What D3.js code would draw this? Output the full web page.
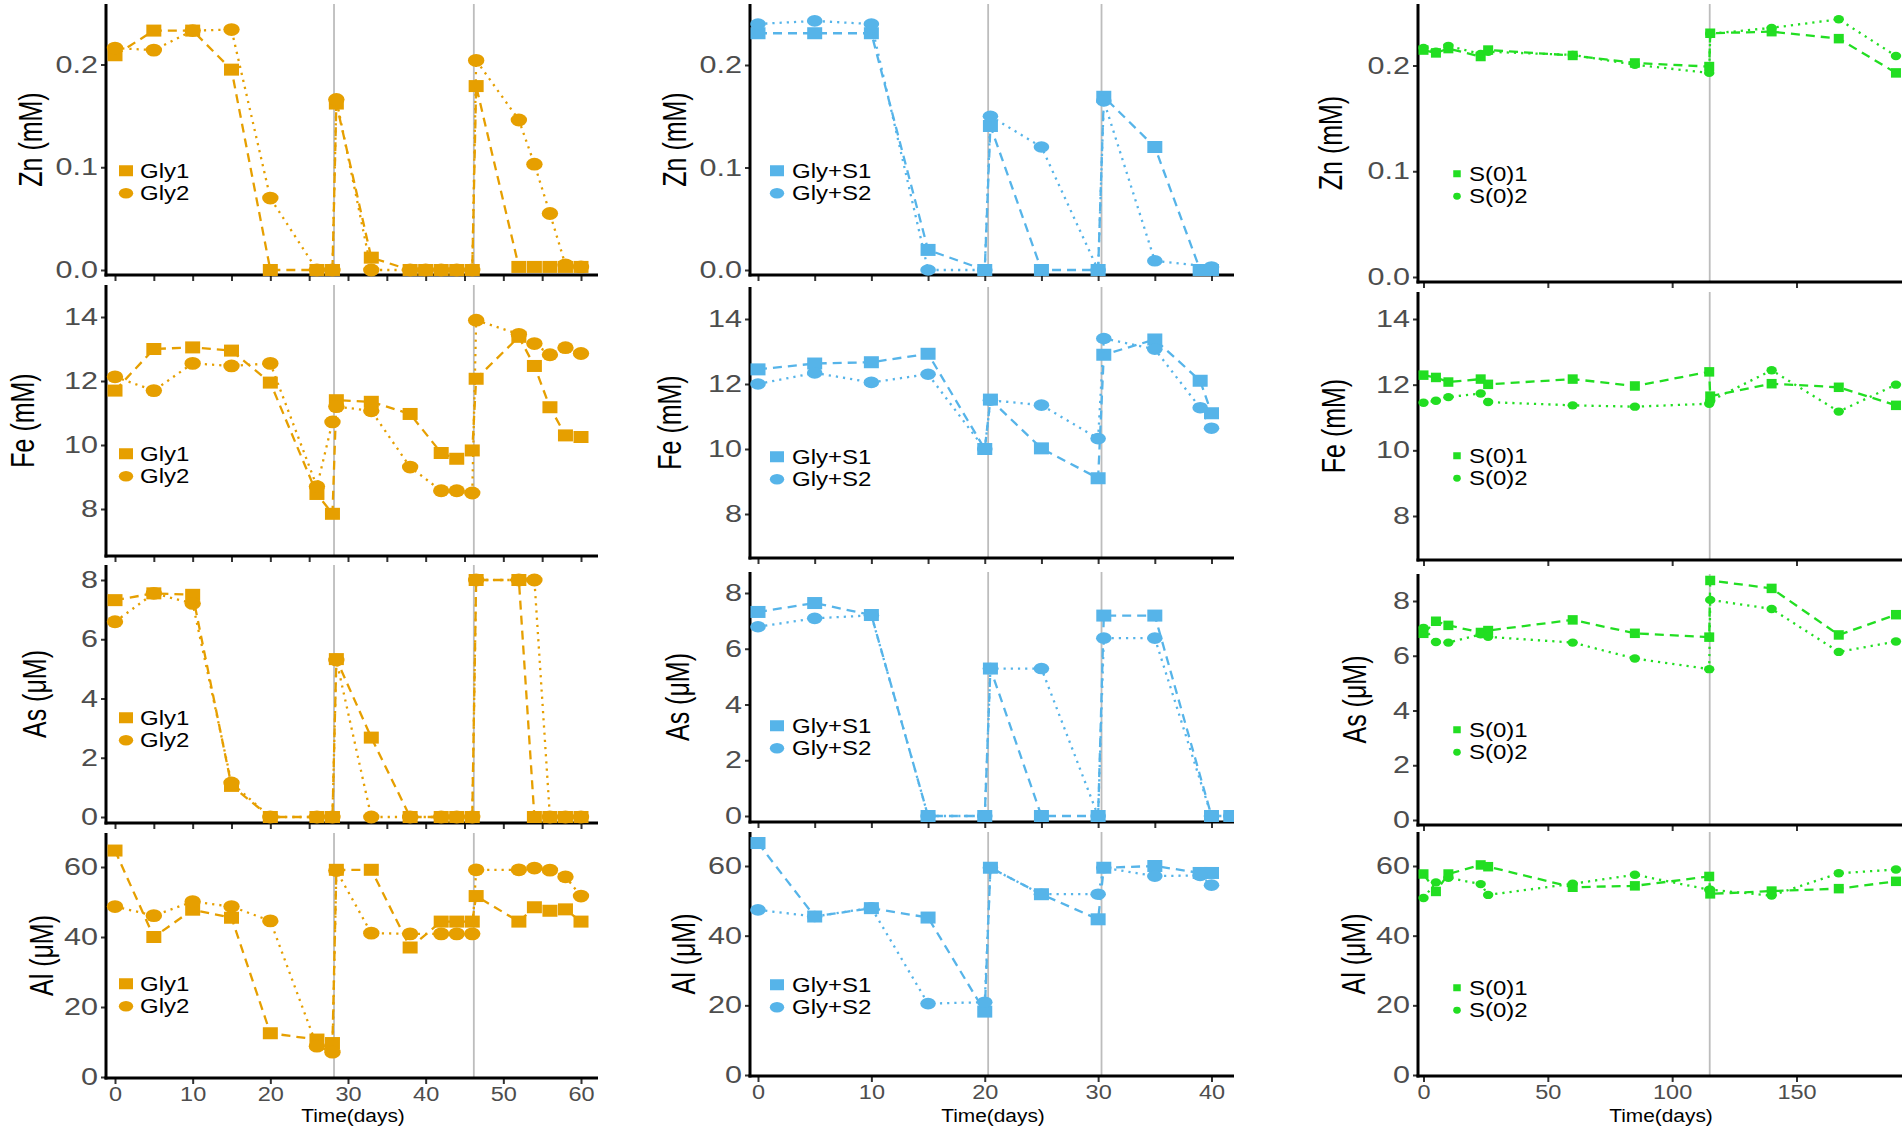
<!DOCTYPE html>
<html>
<head>
<meta charset="utf-8">
<script src="https://cdn.jsdelivr.net/npm/d3@7"></script>
<style>
  body { margin: 0; background: #fff; }
  svg { display: block; }
  text { font-family: "Liberation Sans", Arial, sans-serif; }
</style>
</head>
<body>
<svg id="chart" width="1902" height="1132"></svg>
<script>
// ---------------- data ----------------
// column 1 : Gly
const glyDays = [0, 5, 10, 15, 20, 26, 28, 28.5, 33, 38, 40, 42, 44, 46, 46.5, 52, 54, 56, 58, 60];
const glyZn1 = [0.209, 0.233, 0.233, 0.195, 0, 0, 0, 0.162, 0.012, 0, 0, 0, 0, 0, 0.179, 0.003, 0.003, 0.003, 0.003, 0.003];
const glyZn2 = [0.216, 0.214, 0.233, 0.234, 0.070, 0, 0, 0.166, 0, 0, 0, 0, 0, 0, 0.204, 0.146, 0.103, 0.055, 0.005, 0.003];
const glyFe1 = [11.7, 13.0, 13.05, 12.95, 11.95, 8.47, 7.85, 11.4, 11.35, 10.97, null, 9.75, 9.57, 9.83, 12.07, 13.38, 12.47, 11.18, 10.3, 10.25];
const glyFe2 = [12.13, 11.7, 12.55, 12.47, 12.55, 8.7, 10.72, 11.2, 11.07, 9.31, null, 8.57, 8.57, 8.5, 13.9, 13.46, 13.17, 12.82, 13.04, 12.86];
const glyAs1 = [7.32, 7.55, 7.5, 1.05, 0, 0, 0, 5.33, 2.68, 0, null, 0, 0, 0, 8.0, 8.0, 0, 0, 0, 0];
const glyAs2 = [6.59, 7.55, 7.21, 1.15, 0, 0, 0, 5.3, 0, 0, null, 0, 0, 0, 8.0, 8.0, 8.0, 0, 0, 0];
const glyAl1 = [64.7, 40.0, 47.8, 45.5, 12.5, 10.7, 9.7, 59.2, 59.2, 37.0, null, 44.4, 44.4, 44.4, 51.7, 44.4, 48.5, 47.5, 47.9, 44.4];
const glyAl2 = [48.7, 46.1, 50.1, 48.7, 44.6, 8.8, 7.1, 59.0, 41.1, 40.9, null, 40.9, 40.9, 40.9, 59.2, 59.2, 59.7, 59.1, 57.2, 51.7];

// column 2 : Gly+S
const glysDays = [0, 5, 10, 15, 20, 20.5, 25, 30, 30.5, 35, 39, 40, 41.7];
const glysZn1 = [0.231, 0.231, 0.231, 0.0196, 0, 0.1405, 0, 0, 0.169, 0.120, 0, 0, null];
const glysZn2 = [0.240, 0.243, 0.240, 0, 0, 0.150, 0.120, 0, 0.165, 0.009, null, 0.003, null];
const glysFe1 = [12.45, 12.63, 12.67, 12.93, 10.0, 11.52, 10.02, 9.1, 12.9, 13.37, 12.1, 11.1, null];
const glysFe2 = [12.0, 12.34, 12.05, 12.3, 10.0, 11.5, 11.35, 10.32, 13.4, 13.07, 11.27, 10.64, null];
const glysAs1 = [7.32, 7.64, 7.21, 0, 0, 5.29, 0, 0, 7.19, 7.19, null, 0, 0];
const glysAs2 = [6.79, 7.09, 7.2, 0, 0, 5.29, 5.29, 0, 6.38, 6.38, null, 0, 0];
const glysAl1 = [66.6, 45.5, 47.9, 45.2, 18.2, 59.5, 51.9, 44.7, 59.5, 60.0, 58.0, 58.0, null];
const glysAl2 = [47.4, 45.5, 48.0, 20.5, 20.9, 59.5, 51.9, 51.9, 59.5, 57.1, 57.3, 54.5, null];

// column 3 : S(0)
const s0Days = [0, 5, 10, 23, 26, 60, 85, 114.9, 115.3, 140, 167, 190];
const s0Zn1 = [0.2146, 0.2119, 0.216, 0.2085, 0.2146, 0.2095, 0.2024, 0.199, 0.2305, 0.232, 0.2254, 0.193];
const s0Zn2 = [0.2166, 0.213, 0.2186, 0.211, 0.213, 0.210, 0.2007, 0.193, 0.230, 0.2356, 0.2437, 0.209];
const s0Fe1 = [12.29, 12.22, 12.08, 12.17, 12.01, 12.17, 11.96, 12.39, 11.65, 12.03, 11.92, 11.37];
const s0Fe2 = [11.45, 11.51, 11.62, 11.73, 11.47, 11.37, 11.33, 11.42, 11.5, 12.44, 11.18, 12.0];
const s0As1 = [6.82, 7.26, 7.11, 6.85, 6.92, 7.31, 6.82, 6.68, 8.75, 8.46, 6.76, 7.5];
const s0As2 = [7.02, 6.5, 6.48, 6.78, 6.69, 6.48, 5.9, 5.51, 8.04, 7.71, 6.14, 6.52];
const s0Al1 = [57.7, 52.7, 57.7, 60.3, 59.8, 53.9, 54.3, 57.0, 52.0, 52.8, 53.5, 55.6];
const s0Al2 = [50.8, 55.3, 56.6, 54.8, 51.7, 54.9, 57.5, 53.2, 53.2, 51.5, 57.9, 59.0];

const elements = ["Zn", "Fe", "As", "Al"];
const yTitles = { Zn: "Zn (mM)", Fe: "Fe (mM)", As: "As (μM)", Al: "Al (μM)" };
const yTickValues = { Zn: [0, 0.1, 0.2], Fe: [8, 10, 12, 14], As: [0, 2, 4, 6, 8], Al: [0, 20, 40, 60] };
const yTickFormat = { Zn: d3.format(".1f"), Fe: d3.format("d"), As: d3.format("d"), Al: d3.format("d") };

const columns = [
  {
    days: glyDays, names: ["Gly1", "Gly2"], color: "#E69F00",
    series: { Zn: [glyZn1, glyZn2], Fe: [glyFe1, glyFe2], As: [glyAs1, glyAs2], Al: [glyAl1, glyAl2] },
    vlines: [28.2, 46.2],
    xTicks: d3.range(0, 61, 5), xLabels: d3.range(0, 61, 10)
  },
  {
    days: glysDays, names: ["Gly+S1", "Gly+S2"], color: "#56B4E9",
    series: { Zn: [glysZn1, glysZn2], Fe: [glysFe1, glysFe2], As: [glysAs1, glysAs2], Al: [glysAl1, glysAl2] },
    vlines: [20.3, 30.3],
    xTicks: d3.range(0, 41, 5), xLabels: d3.range(0, 41, 10)
  },
  {
    days: s0Days, names: ["S(0)1", "S(0)2"], color: "#22DE22",
    series: { Zn: [s0Zn1, s0Zn2], Fe: [s0Fe1, s0Fe2], As: [s0As1, s0As2], Al: [s0Al1, s0Al2] },
    vlines: [115.1],
    xTicks: [0, 50, 100, 150], xLabels: [0, 50, 100, 150]
  }
];

// ---------------- layout (pixels) ----------------
// the original figure is stretched sideways, so texts and marks get a wider x scale
const stretch = { yTick: 1.3, xTick: 1.12, title: 1.35, legend: 1.2, time: 1.16 };
const legendGap = 22.5;
const layout = [
  { axis: 106, xd: [0, 60], xr: [115, 581], right: 598, timeX: 353,
    sq: [15, 12], el: [8.2, 6.4], legSq: [14, 11], legEl: [7.2, 5.2], legX: 126, textX: 140,
    rows: {
      Zn: { v: [0, 0.2], p: [270, 64.5], top: 4, bottom: 275, leg: 182, title: 33 },
      Fe: { v: [8, 14], p: [509, 317], top: 285, bottom: 556, leg: 465, title: 25 },
      As: { v: [0, 8], p: [817, 580], top: 565, bottom: 823, leg: 729, title: 37 },
      Al: { v: [0, 60], p: [1077, 867], top: 833, bottom: 1078, leg: 995, title: 44 }
    } },
  { axis: 750, xd: [0, 40], xr: [758, 1211.5], right: 1234, timeX: 993,
    sq: [15, 12], el: [7.8, 5.8], legSq: [14, 11], legEl: [7.2, 5.2], legX: 777, textX: 792,
    rows: {
      Zn: { v: [0, 0.2], p: [270, 65], top: 4, bottom: 275, leg: 182, title: 677 },
      Fe: { v: [8, 14], p: [514, 319], top: 287, bottom: 558, leg: 468, title: 672 },
      As: { v: [0, 8], p: [816, 593], top: 572, bottom: 822, leg: 737, title: 680 },
      Al: { v: [0, 60], p: [1075, 866], top: 832, bottom: 1076, leg: 996, title: 686 }
    } },
  { axis: 1418, xd: [0, 150], xr: [1423.5, 1796.5], right: 1902, timeX: 1661,
    sq: [10, 9.5], el: [5.2, 4.2], legSq: [7.5, 7], legEl: [3.8, 3.4], legX: 1457, textX: 1469,
    rows: {
      Zn: { v: [0, 0.2], p: [277, 65.5], top: 4, bottom: 282, leg: 185, title: 1333 },
      Fe: { v: [8, 14], p: [516, 319], top: 292, bottom: 560, leg: 467, title: 1336 },
      As: { v: [0, 8], p: [820, 601], top: 574, bottom: 825, leg: 741, title: 1357 },
      Al: { v: [0, 60], p: [1075, 866], top: 832, bottom: 1076, leg: 999, title: 1356 }
    } }
];

const svg = d3.select("#chart");
const defs = svg.append("defs");

columns.forEach((col, ci) => {
  const L = layout[ci];
  const x = d3.scaleLinear().domain(L.xd).range(L.xr);

  elements.forEach((el, ri) => {
    const R = L.rows[el];
    const y = d3.scaleLinear().domain(R.v).range(R.p);
    const g = svg.append("g").attr("class", "panel");
    const clipId = "clip-" + ci + "-" + ri;
    defs.append("clipPath").attr("id", clipId).append("rect")
      .attr("x", L.axis - 12).attr("y", R.top - 20)
      .attr("width", L.right - L.axis + 12).attr("height", R.bottom - R.top + 40);

    // grey marker lines
    g.selectAll("line.vline").data(col.vlines).join("line")
      .attr("class", "vline")
      .attr("x1", d => x(d)).attr("x2", d => x(d))
      .attr("y1", R.top).attr("y2", R.bottom)
      .attr("stroke", "#bdbdbd").attr("stroke-width", 1.8);

    // y axis
    const yAxis = g.append("g").attr("transform", "translate(" + L.axis + ",0)")
      .call(d3.axisLeft(y).tickValues(yTickValues[el]).tickFormat(yTickFormat[el]).tickSize(5).tickPadding(3));
    yAxis.select(".domain").remove();
    yAxis.selectAll(".tick line").attr("stroke", "#333").attr("stroke-width", 2);
    yAxis.selectAll(".tick text")
      .attr("x", 0).attr("transform", "translate(-8,0) scale(" + stretch.yTick + ",1)")
      .attr("font-size", 23.5).attr("fill", "#4d4d4d")
      .attr("font-family", "Liberation Sans, Arial, sans-serif");

    // x axis
    const isBottom = el === "Al";
    const xAxis = g.append("g").attr("transform", "translate(0," + R.bottom + ")")
      .call(d3.axisBottom(x).tickValues(isBottom ? col.xLabels : col.xTicks)
        .tickFormat(isBottom ? d3.format("d") : "").tickSize(6).tickPadding(2));
    xAxis.select(".domain").remove();
    xAxis.selectAll(".tick line").attr("stroke", "#333").attr("stroke-width", 2);
    xAxis.selectAll(".tick text").attr("transform", "scale(" + stretch.xTick + ",1)")
      .attr("font-size", 21).attr("fill", "#4d4d4d")
      .attr("font-family", "Liberation Sans, Arial, sans-serif");

    g.append("line").attr("x1", L.axis).attr("x2", L.axis).attr("y1", R.top).attr("y2", R.bottom + 1.5)
      .attr("stroke", "#000").attr("stroke-width", 3);
    g.append("line").attr("x1", L.axis - 1.5).attr("x2", L.right).attr("y1", R.bottom).attr("y2", R.bottom)
      .attr("stroke", "#000").attr("stroke-width", 3);

    // y title
    g.append("text")
      .attr("transform", "translate(" + R.title + "," + ((R.top + R.bottom) / 2) + ") scale(" + stretch.title + ",1) rotate(-90)")
      .attr("text-anchor", "middle").attr("dy", "0.26em")
      .attr("font-size", 25).attr("fill", "#000")
      .text(yTitles[el]);

    // series
    const plot = g.append("g").attr("clip-path", "url(#" + clipId + ")");
    const dashes = ["9,6", "2.2,5"];
    col.series[el].forEach((vals, si) => {
      const pts = col.days.map((d, i) => ({ day: d, v: vals[i] })).filter(p => p.v !== null);
      plot.append("path").datum(pts)
        .attr("fill", "none").attr("stroke", col.color).attr("stroke-width", 2.3)
        .attr("stroke-dasharray", dashes[si])
        .attr("d", d3.line().x(p => x(p.day)).y(p => y(p.v)));
      if (si === 0) {
        plot.selectAll("rect.m").data(pts).join("rect").attr("class", "m")
          .attr("x", p => x(p.day) - L.sq[0] / 2).attr("y", p => y(p.v) - L.sq[1] / 2)
          .attr("width", L.sq[0]).attr("height", L.sq[1]).attr("fill", col.color);
      } else {
        plot.selectAll("ellipse.m").data(pts).join("ellipse").attr("class", "m")
          .attr("cx", p => x(p.day)).attr("cy", p => y(p.v))
          .attr("rx", L.el[0]).attr("ry", L.el[1]).attr("fill", col.color);
      }
    });

    // legend (leg = vertical middle of the two rows)
    const leg = g.append("g").attr("transform", "translate(0," + (R.leg - legendGap / 2) + ")");
    col.names.forEach((name, si) => {
      const yy = si * legendGap;
      if (si === 0) {
        leg.append("rect").attr("x", L.legX - L.legSq[0] / 2).attr("y", yy - L.legSq[1] / 2)
          .attr("width", L.legSq[0]).attr("height", L.legSq[1]).attr("fill", col.color);
      } else {
        leg.append("ellipse").attr("cx", L.legX).attr("cy", yy)
          .attr("rx", L.legEl[0]).attr("ry", L.legEl[1]).attr("fill", col.color);
      }
      leg.append("text")
        .attr("transform", "translate(" + L.textX + "," + yy + ") scale(" + stretch.legend + ",1)")
        .attr("dy", "0.36em")
        .attr("font-size", 20).attr("fill", "#000").text(name);
    });

    if (isBottom) {
      g.append("text")
        .attr("transform", "translate(" + L.timeX + ",1122) scale(" + stretch.time + ",1)")
        .attr("text-anchor", "middle").attr("font-size", 18).attr("fill", "#000")
        .text("Time(days)");
    }
  });
});
</script>
</body>
</html>
